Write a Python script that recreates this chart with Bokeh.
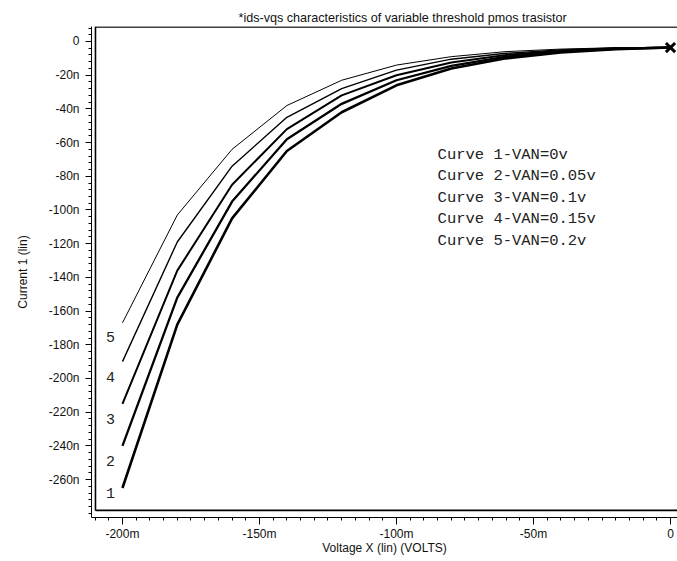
from bokeh.plotting import figure
from bokeh.models import FixedTicker, Range1d
from bokeh.core.properties import value
from bokeh.embed import file_html
from bokeh.resources import INLINE
import numpy as np

# ---- data (x in mV, y in nA) ----
voltage_mv = [-200, -180, -160, -140, -120, -100, -80, -60, -40, -20, 0]
curve1 = [-265, -168, -105, -65, -42, -26, -16, -10, -6.5, -4.5, -3.6]
curve2 = [-240, -152, -95, -58, -37, -23, -14.5, -9, -6, -4.3, -3.6]
curve3 = [-215, -136, -85, -52, -32, -20, -12.5, -8, -5.5, -4.1, -3.6]
curve4 = [-190, -119, -74, -45, -28, -17, -10.5, -7, -5, -3.9, -3.6]
curve5 = [-167, -103, -64, -38, -23, -14, -9, -6, -4.5, -3.7, -3.6]
curves = [curve1, curve2, curve3, curve4, curve5]
curve_numbers = ["1", "2", "3", "4", "5"]
legend_labels = ["Curve 1-VAN=0v", "Curve 2-VAN=0.05v", "Curve 3-VAN=0.1v",
                 "Curve 4-VAN=0.15v", "Curve 5-VAN=0.2v"]
x_ticks = [-200, -150, -100, -50, 0]
x_tick_labels = ["-200m", "-150m", "-100m", "-50m", "0"]
y_ticks = [-260, -240, -220, -200, -180, -160, -140, -120, -100, -80, -60, -40, -20, 0]
y_tick_labels = ["-260n", "-240n", "-220n", "-200n", "-180n", "-160n", "-140n",
                 "-120n", "-100n", "-80n", "-60n", "-40n", "-20n", "0"]

# ---- styles ----
line_widths = [2.6, 2.3, 2.0, 1.4, 1.0]
number_y_offsets = [5, 15, 15, 15, 14]
X0, X1 = -211.3, 2.55
Y0, Y1 = -282.5, 8.9
FRAME_X, FRAME_Y = -209.85, -278.3
SANS = "Liberation Sans"
MONO = "Liberation Mono"

p = figure(width=677, height=561, output_backend="svg", toolbar_location=None,
           x_range=Range1d(X0, X1), y_range=Range1d(Y0, Y1),
           min_border_left=91, min_border_right=0, min_border_top=26,
           min_border_bottom=44,
           title="*ids-vqs characteristics of variable threshold pmos trasistor")
p.outline_line_color = None
p.background_fill_color = "white"
p.border_fill_color = "white"
p.grid.visible = False

p.title.text_font = SANS
p.title.text_font_size = "12.6px"
p.title.text_font_style = "normal"
p.title.text_color = "#111111"
p.title.align = "left"
p.title.offset = 147
p.title.standoff = 4

# axes
p.xaxis.ticker = FixedTicker(ticks=x_ticks, minor_ticks=list(np.arange(-210, 1, 5)))
p.xaxis.major_label_overrides = dict(zip(x_ticks, x_tick_labels))
p.yaxis.ticker = FixedTicker(ticks=y_ticks, minor_ticks=list(np.arange(-280, 9, 4)))
p.yaxis.major_label_overrides = dict(zip(y_ticks, y_tick_labels))
for ax in (p.xaxis, p.yaxis):
    ax.axis_line_color = "black"
    ax.axis_line_width = 1
    ax.major_tick_line_color = "black"
    ax.minor_tick_line_color = "black"
    ax.major_tick_in = 0
    ax.minor_tick_in = 0
    ax.major_label_text_font = SANS
    ax.major_label_text_font_size = "12px"
    ax.major_label_text_color = "#111111"
    ax.axis_label_text_font = SANS
    ax.axis_label_text_font_size = "12px"
    ax.axis_label_text_font_style = "normal"
    ax.axis_label_text_color = "#111111"
p.xaxis.major_tick_out = 7
p.xaxis.minor_tick_out = 3
p.yaxis.major_tick_out = 6
p.yaxis.minor_tick_out = 3
p.xaxis.major_label_standoff = 2
p.yaxis.major_label_standoff = 6
p.xaxis.axis_label = "Voltage X (lin) (VOLTS)"
p.yaxis.axis_label = "Current 1 (lin)"
p.xaxis.axis_label_standoff = -3
p.yaxis.axis_label_standoff = 16

# frame lines (inner box offset from the axes)
p.segment(x0=[FRAME_X, FRAME_X, FRAME_X], y0=[FRAME_Y, FRAME_Y, Y1 - 0.3],
          x1=[FRAME_X, X1, X1], y1=[Y1, FRAME_Y, Y1 - 0.3],
          line_color="black", line_width=1.6)

# curves
for c, lw in zip(curves, line_widths):
    p.line(voltage_mv, c, line_color="black", line_width=lw)

# end marker
p.scatter([voltage_mv[-1]], [curve1[-1]], marker="x", size=13,
          line_color="black", line_width=3)

# curve numbers at the start of each curve
p.text(x=[voltage_mv[0]] * 5, y=[c[0] for c in curves], text=curve_numbers,
       x_offset=-12, y_offset=number_y_offsets,
       text_font=value(MONO), text_font_size="15px", text_color="#222222",
       text_align="center", text_baseline="middle")

# legend text block
p.text(x=[-85.0] * 5, y=[-67.2] * 5, text=legend_labels,
       y_offset=[0, 21.5, 43, 64.5, 86],
       text_font=value(MONO), text_font_size="15.5px", text_color="#222222",
       text_align="left", text_baseline="middle")

open("out.html", "w").write(file_html(p, INLINE))
